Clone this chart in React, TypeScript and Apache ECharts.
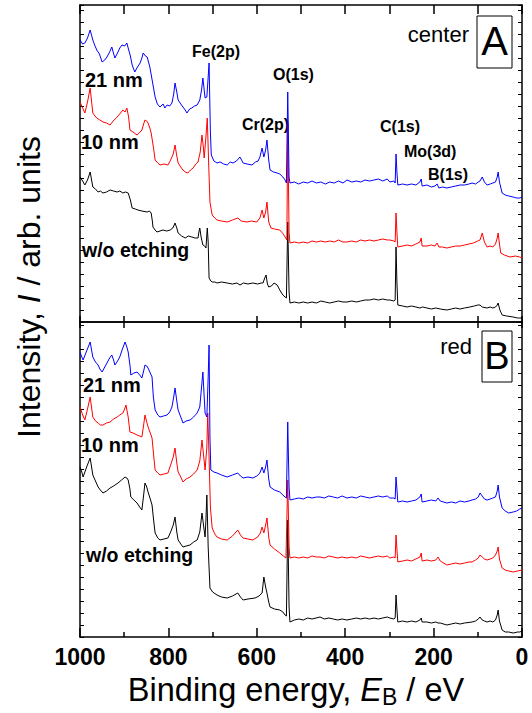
import { useEffect, useRef } from "react";
import * as echarts from "echarts";

// Binding energy (eV) vs intensity (arb. units, offsets included) — panel A (center)
const blueA: [number, number][] = [
  [1000, 282], [994, 278], [989, 279], [983, 284], [977, 292], [971, 282], [966, 276], [962, 272], [956, 268], [950, 260],
  [944, 262], [939, 265], [933, 270], [928, 275], [925, 270], [921, 264], [914, 270], [910, 274], [905, 277], [899, 276],
  [894, 279], [891, 274], [886, 266], [882, 257], [876, 250], [870, 255], [864, 259], [860, 264], [857, 269], [852, 266],
  [848, 265], [842, 255], [836, 240], [830, 225], [825, 218], [819, 215], [812, 218], [808, 214], [803, 217], [797, 216],
  [792, 219], [788, 228], [785, 239], [781, 230], [778, 222], [772, 218], [767, 215], [762, 212], [758, 209], [752, 213],
  [747, 214], [741, 216], [735, 217], [729, 222], [725, 232], [722, 244], [719, 232], [717, 224], [713, 225], [710, 245],
  [708, 259], [705, 190], [703, 167], [697, 161], [690, 159], [683, 160], [675, 158], [667, 157], [660, 160], [654, 159],
  [646, 161], [638, 165], [631, 159], [622, 158], [611, 157], [603, 160], [597, 161], [593, 165], [588, 174], [584, 165],
  [580, 172], [577, 182], [573, 162], [570, 152], [562, 150], [554, 149], [548, 148], [541, 145], [536, 142], [533, 139],
  [530, 230], [527, 145], [525, 139], [515, 140], [505, 138], [495, 140], [485, 139], [475, 141], [465, 139], [455, 140],
  [445, 138], [435, 140], [425, 139], [415, 141], [405, 139], [396, 142], [385, 140], [375, 141], [365, 140], [355, 142],
  [345, 141], [335, 142], [325, 143], [315, 141], [305, 143], [299, 140], [290, 141], [287, 139], [285, 168], [283, 150],
  [281, 137], [270, 138], [260, 137], [250, 138], [240, 137], [231, 140], [228, 143], [226, 136], [215, 137], [205, 135],
  [197, 136], [192, 138], [188, 134], [180, 135], [170, 134], [160, 135], [150, 136], [140, 137], [130, 137], [120, 138],
  [113, 139], [105, 138], [99, 140], [95, 141], [90, 145], [85, 140], [79, 137], [72, 138], [66, 139], [60, 140],
  [56, 145], [54, 150], [51, 140], [45, 129], [38, 127], [30, 126], [20, 125], [12, 124], [5, 124], [0, 125],
];

const redA: [number, number][] = [
  [1000, 220], [994, 214], [989, 209], [983, 220], [977, 234], [971, 209], [966, 206], [962, 204], [955, 202], [948, 200],
  [940, 199], [932, 197], [925, 201], [916, 205], [910, 208], [903, 212], [898, 210], [894, 214], [890, 205], [887, 192],
  [880, 190], [871, 187], [866, 189], [860, 192], [856, 198], [853, 202], [849, 201], [846, 199], [842, 194], [839, 189],
  [834, 175], [830, 162], [824, 159], [819, 157], [810, 158], [801, 157], [795, 162], [789, 168], [785, 177], [781, 166],
  [778, 159], [772, 155], [767, 152], [762, 150], [756, 149], [750, 152], [744, 154], [738, 158], [733, 160], [728, 170],
  [724, 187], [721, 175], [719, 164], [716, 180], [712, 204], [709, 160], [706, 120], [701, 107], [695, 104], [690, 102],
  [680, 101], [667, 100], [655, 102], [643, 104], [635, 101], [622, 100], [612, 101], [600, 100], [593, 104], [588, 112],
  [584, 104], [580, 110], [577, 120], [573, 100], [568, 94], [560, 93], [548, 92], [540, 88], [536, 85], [532, 82],
  [530, 197], [527, 90], [525, 79], [515, 80], [505, 79], [495, 80], [485, 79], [475, 81], [465, 80], [455, 81],
  [445, 80], [435, 81], [425, 80], [415, 82], [405, 80], [396, 80], [385, 81], [375, 80], [365, 82], [355, 81],
  [345, 82], [335, 81], [325, 82], [315, 83], [305, 82], [299, 82], [290, 81], [287, 80], [285, 109], [283, 90],
  [281, 75], [270, 76], [260, 77], [250, 76], [240, 78], [231, 80], [228, 84], [226, 76], [215, 76], [205, 77],
  [197, 76], [192, 79], [188, 75], [180, 75], [170, 74], [160, 75], [150, 76], [140, 76], [130, 77], [120, 78],
  [110, 79], [100, 81], [95, 82], [92, 86], [90, 89], [85, 80], [79, 75], [72, 76], [66, 75], [60, 78],
  [56, 84], [54, 89], [51, 78], [48, 69], [40, 67], [27, 65], [15, 66], [5, 65], [0, 64],
];

const blackA: [number, number][] = [
  [1000, 145], [994, 141], [989, 137], [983, 142], [977, 150], [971, 135], [965, 133], [959, 130], [954, 131], [948, 129],
  [940, 130], [932, 132], [924, 131], [916, 130], [910, 131], [903, 129], [897, 130], [891, 129], [886, 122], [882, 114],
  [875, 113], [869, 112], [860, 111], [848, 110], [843, 111], [839, 109], [836, 100], [835, 95], [830, 92], [826, 90],
  [819, 91], [812, 92], [804, 91], [796, 92], [790, 94], [785, 99], [781, 94], [778, 89], [770, 86], [762, 84],
  [755, 86], [747, 85], [740, 84], [733, 84], [731, 90], [729, 94], [726, 85], [722, 77], [718, 76], [715, 74],
  [712, 94], [710, 80], [708, 44], [704, 41], [701, 40], [695, 40], [690, 39], [680, 40], [667, 39], [655, 38],
  [645, 39], [638, 37], [630, 39], [620, 38], [609, 39], [598, 38], [590, 39], [586, 39], [582, 44], [579, 47],
  [576, 38], [573, 35], [567, 36], [561, 39], [554, 37], [548, 32], [544, 29], [541, 27], [536, 25], [533, 24],
  [530, 100], [527, 30], [525, 19], [515, 20], [505, 19], [495, 20], [485, 19], [475, 20], [465, 19], [455, 21],
  [445, 20], [435, 19], [425, 20], [415, 21], [405, 20], [396, 20], [385, 21], [375, 20], [365, 21], [355, 22],
  [345, 22], [335, 23], [325, 22], [315, 23], [305, 22], [299, 22], [290, 21], [287, 22], [285, 75], [283, 40],
  [281, 17], [270, 16], [260, 15], [250, 16], [240, 15], [231, 14], [225, 15], [215, 14], [205, 13], [195, 14],
  [185, 13], [170, 12], [160, 13], [150, 14], [140, 13], [130, 14], [118, 15], [108, 16], [100, 17], [95, 17],
  [90, 15], [79, 14], [72, 15], [66, 14], [60, 15], [56, 17], [54, 19], [50, 12], [45, 7], [35, 6], [20, 5],
  [10, 4], [5, 4], [0, 4],
];

// Panel B (red)
const blueB: [number, number][] = [
  [1000, 285], [996, 280], [993, 277], [985, 286], [977, 295], [971, 280], [965, 275], [959, 272], [955, 268], [950, 265],
  [944, 270], [939, 274], [933, 279], [928, 282], [924, 277], [921, 272], [915, 276], [910, 280], [904, 288], [898, 295],
  [894, 290], [891, 285], [887, 272], [885, 262], [878, 264], [871, 265], [865, 262], [860, 259], [856, 266], [853, 272],
  [849, 271], [846, 269], [841, 264], [837, 260], [834, 240], [830, 227], [824, 222], [819, 220], [811, 221], [803, 222],
  [797, 225], [792, 230], [788, 240], [785, 249], [781, 236], [778, 227], [772, 220], [767, 214], [760, 216], [751, 217],
  [743, 220], [735, 224], [729, 230], [725, 250], [722, 265], [719, 240], [717, 224], [713, 220], [710, 260], [708, 292],
  [706, 200], [704, 167], [697, 165], [690, 164], [680, 162], [667, 160], [655, 162], [643, 164], [637, 161], [631, 159],
  [620, 160], [609, 159], [600, 161], [593, 164], [588, 170], [584, 164], [580, 170], [577, 177], [573, 158], [570, 150],
  [560, 147], [548, 145], [541, 142], [536, 140], [533, 139], [530, 215], [527, 150], [525, 137], [515, 138], [505, 139],
  [495, 138], [485, 140], [475, 139], [465, 140], [457, 140], [447, 139], [437, 141], [427, 140], [417, 139], [407, 141],
  [396, 139], [385, 140], [375, 139], [365, 141], [355, 140], [345, 139], [335, 140], [325, 141], [315, 140], [305, 141],
  [299, 139], [290, 139], [287, 138], [285, 160], [283, 148], [281, 135], [270, 136], [260, 135], [250, 136], [240, 137],
  [231, 140], [228, 143], [226, 135], [215, 136], [205, 137], [195, 136], [190, 139], [185, 136], [170, 134], [160, 135],
  [150, 134], [140, 136], [130, 135], [120, 136], [113, 137], [105, 138], [99, 140], [95, 144], [90, 141], [85, 138],
  [79, 137], [72, 138], [66, 139], [60, 140], [56, 146], [54, 152], [51, 140], [45, 129], [38, 126], [30, 124], [20, 125],
  [12, 126], [5, 128], [0, 129],
];

const redB: [number, number][] = [
  [1000, 230], [994, 222], [989, 217], [983, 228], [977, 240], [971, 220], [965, 216], [959, 214], [954, 212], [948, 212],
  [940, 214], [932, 215], [924, 218], [916, 220], [910, 222], [903, 224], [899, 228], [896, 232], [891, 220], [887, 205],
  [880, 204], [871, 202], [865, 201], [860, 200], [856, 212], [853, 222], [849, 215], [846, 210], [841, 204], [837, 199],
  [833, 180], [830, 167], [824, 164], [819, 162], [810, 163], [801, 164], [795, 172], [789, 180], [785, 189], [781, 174],
  [778, 165], [772, 160], [767, 155], [760, 158], [751, 160], [743, 163], [735, 167], [729, 176], [724, 197], [720, 180],
  [717, 167], [713, 190], [711, 224], [708, 180], [705, 130], [701, 109], [695, 103], [690, 100], [680, 98], [667, 97],
  [655, 101], [643, 107], [637, 102], [631, 99], [620, 98], [609, 97], [598, 100], [592, 104], [588, 110], [584, 104],
  [580, 112], [577, 119], [573, 100], [570, 92], [560, 88], [548, 84], [540, 81], [534, 79], [530, 157], [527, 90],
  [525, 79], [515, 80], [505, 79], [495, 80], [485, 79], [475, 81], [465, 80], [457, 80], [447, 79], [437, 81],
  [427, 80], [417, 79], [407, 80], [396, 79], [385, 80], [375, 79], [365, 81], [355, 80], [345, 79], [335, 80],
  [325, 81], [315, 80], [305, 81], [299, 79], [290, 80], [287, 79], [285, 102], [283, 88], [281, 75], [270, 76],
  [260, 77], [250, 76], [240, 78], [231, 80], [228, 84], [226, 76], [215, 77], [205, 76], [195, 77], [190, 80],
  [185, 76], [170, 72], [160, 73], [150, 74], [140, 73], [130, 74], [120, 75], [113, 75], [105, 77], [99, 79],
  [95, 82], [90, 80], [85, 78], [79, 77], [72, 78], [66, 79], [60, 82], [56, 86], [54, 90], [51, 78], [45, 69],
  [38, 67], [30, 66], [20, 65], [10, 66], [0, 67],
];

const blackB: [number, number][] = [
  [1000, 170], [996, 165], [993, 160], [985, 170], [977, 179], [971, 162], [965, 156], [959, 150], [954, 147], [948, 144],
  [940, 146], [932, 149], [924, 151], [914, 154], [906, 157], [898, 160], [894, 159], [891, 157], [887, 148], [885, 140],
  [878, 137], [871, 134], [865, 130], [860, 127], [856, 142], [853, 154], [849, 150], [846, 145], [841, 138], [837, 132],
  [833, 115], [830, 104], [824, 99], [819, 97], [810, 98], [801, 99], [795, 105], [789, 112], [785, 120], [781, 105],
  [778, 97], [772, 93], [767, 90], [760, 91], [751, 92], [743, 95], [735, 97], [729, 105], [724, 124], [720, 110],
  [717, 100], [715, 118], [713, 142], [710, 90], [706, 49], [700, 45], [690, 42], [680, 40], [667, 39], [655, 41],
  [643, 44], [637, 40], [631, 37], [620, 38], [604, 39], [595, 41], [588, 44], [586, 52], [584, 60], [580, 50],
  [577, 44], [573, 35], [570, 30], [560, 28], [548, 27], [541, 25], [536, 22], [533, 21], [530, 117], [527, 30],
  [525, 15], [515, 17], [505, 18], [495, 17], [485, 19], [475, 18], [457, 20], [447, 18], [437, 19], [427, 18],
  [417, 17], [407, 18], [396, 17], [385, 18], [375, 19], [365, 18], [355, 19], [345, 18], [335, 19], [325, 18],
  [315, 19], [305, 20], [299, 19], [290, 18], [287, 19], [285, 42], [283, 28], [281, 15], [270, 16], [260, 15],
  [250, 16], [240, 15], [231, 17], [228, 19], [226, 15], [215, 15], [205, 14], [195, 15], [190, 14], [185, 14],
  [170, 12], [160, 13], [150, 14], [140, 13], [130, 14], [113, 15], [105, 16], [99, 18], [95, 20], [90, 17],
  [85, 16], [79, 15], [72, 16], [66, 15], [60, 17], [56, 22], [54, 27], [51, 16], [45, 7], [38, 5], [30, 5],
  [20, 4], [10, 5], [5, 5], [0, 6],
];

const FONT = "'Liberation Sans', Arial, Helvetica, sans-serif";

export default function App() {
  const ref = useRef<HTMLDivElement>(null);
  useEffect(() => {
    const chart = echarts.init(ref.current!, null, { renderer: "svg" });
    const line = { color: "#000", width: 1.5 };
    const xBase = (grid: number, position: "top" | "bottom", tickLen: number) => ({
      type: "value" as const,
      gridIndex: grid,
      position,
      min: 0,
      max: 1000,
      interval: 100,
      inverse: true,
      axisLine: { show: true, onZero: false, lineStyle: line },
      axisTick: { show: true, inside: true, length: tickLen, lineStyle: line },
      axisLabel: { show: false },
      splitLine: { show: false },
    });
    const yBase = (grid: number, position: "left" | "right", max: number) => ({
      type: "value" as const,
      gridIndex: grid,
      position,
      min: 0,
      max,
      interval: 12,
      axisLine: { show: true, onZero: false, lineStyle: line },
      axisTick: { show: true, inside: true, length: 4, lineStyle: { color: "#000", width: 1 } },
      axisLabel: { show: false },
      splitLine: { show: false },
    });
    const mk = (data: [number, number][], color: string, xi: number, yi: number) => ({
      type: "line" as const,
      data,
      xAxisIndex: xi,
      yAxisIndex: yi,
      showSymbol: false,
      symbol: "none",
      lineStyle: { color, width: 1 },
      silent: true,
    });
    const bold = (text: string, x: number, y: number, size: number) => ({
      type: "text" as const,
      x,
      y,
      style: { text, fill: "#000", font: `bold ${size}px ${FONT}`, textAlign: "left", textVerticalAlign: "middle", verticalAlign: "middle" },
    });
    const plain = (text: string, x: number, y: number, size: number, align: string) => ({
      type: "text" as const,
      x,
      y,
      style: { text, fill: "#000", font: `${size}px ${FONT}`, textAlign: align, textVerticalAlign: "middle", verticalAlign: "middle" },
    });
    chart.setOption({
      animation: false,
      backgroundColor: "#fff",
      grid: [
        { left: 80, right: 10, top: 5, height: 317 },
        { left: 80, right: 10, top: 322, height: 315 },
      ],
      xAxis: [
        xBase(0, "bottom", 6),
        xBase(0, "top", 9),
        xBase(1, "top", 6),
        {
          ...xBase(1, "bottom", 9),
          interval: 200,
          minorTick: { show: true, splitNumber: 2, length: 5, lineStyle: line },
          axisLabel: {
            show: true,
            margin: 8,
            color: "#000",
            fontSize: 23,
            fontWeight: "bold",
            fontFamily: FONT,
            showMinLabel: true,
            showMaxLabel: true,
            formatter: (v: number) => String(v),
          },
        },
      ],
      yAxis: [yBase(0, "left", 317), yBase(0, "right", 317), yBase(1, "left", 315), yBase(1, "right", 315)],
      series: [
        mk(blackA, "#000000", 0, 0),
        mk(redA, "#ff0000", 0, 0),
        mk(blueA, "#0000ff", 0, 0),
        mk(blackB, "#000000", 3, 2),
        mk(redB, "#ff0000", 3, 2),
        mk(blueB, "#0000ff", 3, 2),
      ],
      graphic: [
        bold("21 nm", 85, 80, 20),
        bold("10 nm", 81, 142, 20),
        bold("w/o etching", 82, 250, 19.5),
        bold("Fe(2p)", 192, 51, 16),
        bold("O(1s)", 273, 74, 16),
        bold("Cr(2p)", 242, 124, 16),
        bold("C(1s)", 380, 126, 16),
        bold("Mo(3d)", 404, 151, 16),
        bold("B(1s)", 428, 174, 16),
        bold("21 nm", 83, 385, 20),
        bold("10 nm", 81, 445, 20),
        bold("w/o etching", 86, 555, 19.5),
        plain("center", 469, 34, 22, "right"),
        { type: "rect", shape: { x: 477, y: 16, width: 35, height: 52 }, style: { fill: "#fff", stroke: "#000", lineWidth: 1 } },
        plain("A", 494.5, 41, 40, "center"),
        plain("red", 472, 346, 22, "right"),
        { type: "rect", shape: { x: 482, y: 331, width: 30, height: 51 }, style: { fill: "#fff", stroke: "#000", lineWidth: 1 } },
        plain("B", 497, 356, 38, "center"),
        {
          type: "text",
          x: 296,
          y: 690,
          style: {
            text: "{n|Binding energy, }{i|E}{s|B}{n| / eV}",
            textAlign: "center",
            textVerticalAlign: "middle",
            verticalAlign: "middle",
            fill: "#000",
            rich: {
              n: { fontSize: 32.5, fontFamily: FONT, lineHeight: 36, verticalAlign: "middle", fill: "#000" },
              i: { fontSize: 32.5, fontFamily: FONT, fontStyle: "italic", lineHeight: 36, verticalAlign: "middle", fill: "#000" },
              s: { fontSize: 23, fontFamily: FONT, lineHeight: 24, verticalAlign: "bottom", fill: "#000" },
            },
          },
        },
        {
          type: "text",
          x: 29,
          y: 287,
          rotation: Math.PI / 2,
          style: {
            text: "{n|Intensity, }{i|I}{n| / arb. units}",
            textAlign: "center",
            textVerticalAlign: "middle",
            verticalAlign: "middle",
            fill: "#000",
            rich: {
              n: { fontSize: 32, fontFamily: FONT, fill: "#000" },
              i: { fontSize: 32, fontFamily: FONT, fontStyle: "italic", fill: "#000" },
            },
          },
        },
      ],
    });
    return () => chart.dispose();
  }, []);
  return <div ref={ref} style={{ position: "absolute", left: 0, top: 0, width: 532, height: 713 }} />;
}
